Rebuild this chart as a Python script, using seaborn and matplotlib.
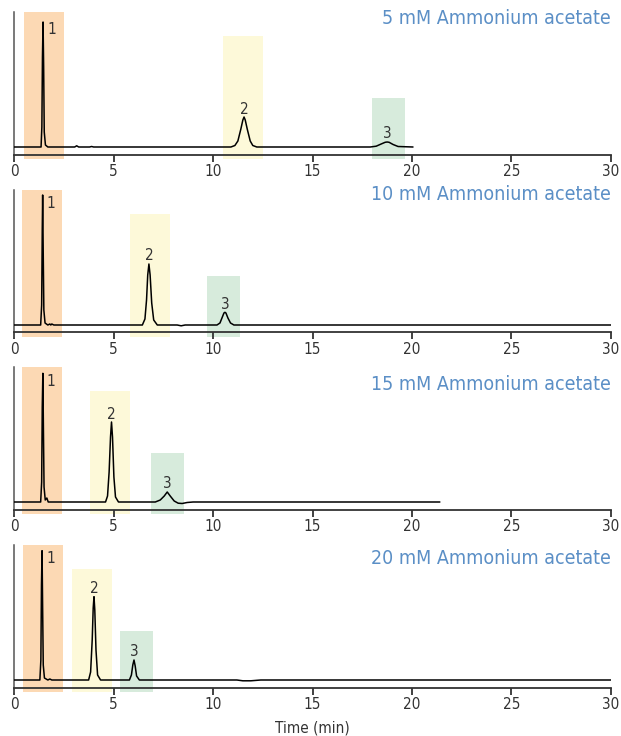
import matplotlib
matplotlib.use("Agg")
import matplotlib.pyplot as plt
import pandas as pd
import seaborn as sns

# 농도별 크로마토그램 (시간[min], 신호[상대값]) - 그림에서 읽은 값
TITLES = [
    "5 mM Ammonium acetate",
    "10 mM Ammonium acetate",
    "15 mM Ammonium acetate",
    "20 mM Ammonium acetate",
]

time_5mm = [0, 1.36, 1.40, 1.43, 1.46, 1.49, 1.52, 1.58, 1.70, 3.05, 3.15, 3.25, 3.80, 3.90, 4.00,
            10.90, 11.10, 11.25, 11.40, 11.50, 11.56, 11.62, 11.72, 11.87, 12.00, 12.20,
            17.90, 18.20, 18.45, 18.65, 18.75, 18.85, 19.05, 19.30, 20.05]
signal_5mm = [0, 0, 20, 90, 125, 80, 15, 2, 0, 0, 1.2, 0, 0, 0.5, 0,
              0, 1.5, 6, 18, 27, 30, 27, 18, 6, 1.5, 0,
              0, 0.8, 3, 4.7, 5, 4.7, 2.5, 0.5, 0]

time_10mm = [0, 1.34, 1.39, 1.42, 1.44, 1.47, 1.50, 1.56, 1.70, 1.80, 1.85, 1.90, 2.00, 2.10,
             6.45, 6.58, 6.66, 6.72, 6.78, 6.84, 6.92, 7.02, 7.20, 8.20, 8.40, 8.60,
             10.20, 10.35, 10.47, 10.55, 10.60, 10.65, 10.75, 10.88, 11.05, 30]
signal_10mm = [0, 0, 20, 95, 130, 70, 15, 2, 0, 1, 0, 1, 0, 0,
               0, 6, 25, 50, 61, 50, 22, 5, 0, 0, -0.8, 0,
               0, 2, 8, 12, 12.7, 12, 7, 2, 0, 0]

time_15mm = [0, 1.34, 1.39, 1.42, 1.45, 1.48, 1.51, 1.57, 1.65, 1.72, 1.80,
             4.60, 4.70, 4.78, 4.85, 4.90, 4.95, 5.02, 5.10, 5.25,
             7.10, 7.35, 7.55, 7.70, 7.85, 8.05, 8.25, 8.45, 8.70, 9.00, 21.4]
signal_15mm = [0, 0, 20, 95, 128.7, 70, 15, 2, 4, 0, 0,
               0, 6, 30, 65, 80, 65, 25, 5, 0,
               0, 2, 6, 10, 6, 1, -1.2, -1.5, -0.5, 0, 0]

time_20mm = [0, 1.30, 1.35, 1.38, 1.41, 1.44, 1.47, 1.53, 1.70, 1.80, 1.90,
             3.75, 3.85, 3.93, 3.98, 4.02, 4.06, 4.12, 4.20, 4.35,
             5.80, 5.90, 5.97, 6.03, 6.09, 6.16, 6.30, 11.20, 11.50, 11.90, 12.40, 30]
signal_20mm = [0, 0, 20, 95, 129.3, 70, 15, 2, 0, 1, 0,
               0, 8, 40, 72, 83.3, 70, 30, 5, 0,
               0, 5, 15, 20, 14, 4, 0, 0, -0.8, -0.8, 0, 0]

TIMES = [time_5mm, time_10mm, time_15mm, time_20mm]
SIGNALS = [signal_5mm, signal_10mm, signal_15mm, signal_20mm]

# 피크 1, 2, 3 머무름 시간과 높이
peak_times = [[1.46, 11.56, 18.75], [1.44, 6.78, 10.60], [1.45, 4.90, 7.70], [1.41, 4.02, 6.03]]
peak_heights = [[125, 30, 5], [130, 61, 12.7], [128.7, 80, 10], [129.3, 83.3, 20]]

# 피크 구간 음영 (시작, 끝)
band_starts = [[0.50, 10.50, 18.00], [0.40, 5.83, 9.70], [0.40, 3.82, 6.88], [0.44, 2.91, 5.33]]
band_ends = [[2.50, 12.50, 19.65], [2.40, 7.84, 11.36], [2.40, 5.83, 8.54], [2.45, 4.91, 6.98]]
band_tops = [135, 111, 49]
BAND_COLORS = ["#fcd9b4", "#fdf9d9", "#d7ebdc"]

Y_LOW, Y_HIGH, AXIS_Y = -12, 135, -7.5
PANEL_TOPS = [12, 190, 367, 545]  # 픽셀
TITLE_Y = [18, 195, 385, 559]
PANEL_H = 147
W, H = 621, 736
TEXT_GRAY = "#333333"
TITLE_BLUE = "#5b8fc6"

sns.set_style("white")
plt.rcParams["font.family"] = ["DejaVu Sans"]
plt.rcParams["font.stretch"] = "condensed"

fig = plt.figure(figsize=(W / 100, H / 100), dpi=100)

for i in range(4):
    top = PANEL_TOPS[i]
    ax = fig.add_axes([14 / W, 1 - (top + PANEL_H) / H, 597 / W, PANEL_H / H])

    for j in range(3):
        frac = (band_tops[j] - Y_LOW) / (Y_HIGH - Y_LOW)
        ax.axvspan(band_starts[i][j], band_ends[i][j], ymin=0, ymax=min(frac, 1),
                   color=BAND_COLORS[j], lw=0, zorder=0)

    df = pd.DataFrame({"time": TIMES[i], "signal": SIGNALS[i]})
    sns.lineplot(data=df, x="time", y="signal", color="black", lw=1.1,
                 estimator=None, sort=False, ax=ax, zorder=3)

    # 피크 번호
    ax.text(peak_times[i][0] + 0.2, peak_heights[i][0] - 8, "1", ha="left", va="center",
            fontsize=11, color=TEXT_GRAY)
    for j in (1, 2):
        ax.text(peak_times[i][j], peak_heights[i][j] + 8, str(j + 1), ha="center", va="center",
                fontsize=11, color=TEXT_GRAY)

    fig.text(611 / W, 1 - TITLE_Y[i] / H, TITLES[i], ha="right", va="center",
             fontsize=14, color=TITLE_BLUE)

    ax.set_xlim(0, 30)
    ax.set_ylim(Y_LOW, Y_HIGH)
    ax.set_xticks([0, 5, 10, 15, 20, 25, 30])
    ax.set_yticks([])
    ax.set_xlabel("")
    ax.set_ylabel("")
    ax.spines["top"].set_visible(False)
    ax.spines["right"].set_visible(False)
    ax.spines["bottom"].set_position(("data", AXIS_Y))
    ax.spines["bottom"].set_color("#333333")
    ax.spines["bottom"].set_linewidth(1.3)
    ax.spines["left"].set_color("#555555")
    ax.spines["left"].set_linewidth(1.1)
    ax.tick_params(axis="x", direction="out", length=5, width=1.3, color="#333333",
                   labelsize=11, labelcolor=TEXT_GRAY, pad=2, bottom=True)
    ax.set_facecolor("none")

fig.text(312 / W, 1 - 728 / H, "Time (min)", ha="center", va="center", fontsize=11,
         color=TEXT_GRAY)

fig.savefig("out.png", dpi=100)
